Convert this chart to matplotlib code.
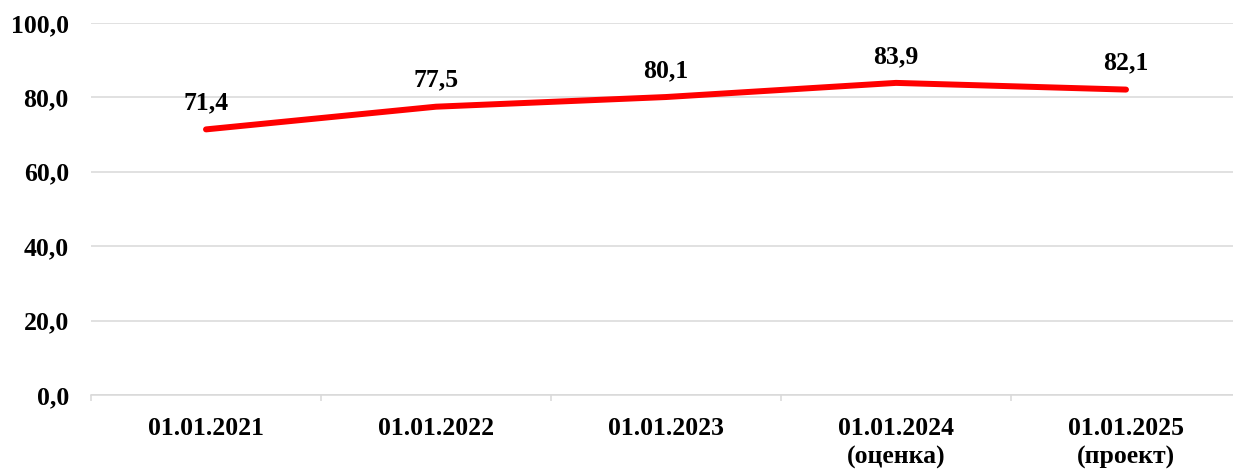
import numpy as np
import matplotlib
matplotlib.use("Agg")
import matplotlib.pyplot as plt
from matplotlib.ticker import FixedLocator

# данные
categories = ["01.01.2021", "01.01.2022", "01.01.2023",
              "01.01.2024\n(оценка)", "01.01.2025\n(проект)"]
values = [71.4, 77.5, 80.1, 83.9, 82.1]
y_ticks = [0, 20, 40, 60, 80, 100]

plt.rcParams["font.family"] = ["Liberation Serif", "DejaVu Serif"]
plt.rcParams["font.weight"] = "bold"

fig = plt.figure(figsize=(12.33, 4.72), dpi=100)
ax = fig.add_axes([91 / 1233, 1 - 395 / 472, 1150 / 1233, 372 / 472])

x = np.arange(len(categories))
ax.plot(x, values, color="#FF0000", linewidth=4.3, solid_capstyle="round", zorder=3)

for xi, v in zip(x, values):
    ax.annotate(f"{v:.1f}".replace(".", ","), (xi, v), xytext=(0, 19),
                textcoords="offset points", ha="center", va="center",
                fontsize=18.5, fontweight="bold")

ax.set_xlim(-0.5, len(categories) - 0.5)
ax.set_ylim(0, 100)
ax.set_yticks(y_ticks)
ax.set_yticklabels([f"{t:.1f}".replace(".", ",") for t in y_ticks])
ax.set_xticks(x)
ax.set_xticklabels(categories, linespacing=1.3)
ax.xaxis.set_minor_locator(FixedLocator(np.arange(-0.5, len(categories), 1.0)))

ax.grid(axis="y", color="#D9D9D9", linewidth=1.1)
ax.set_axisbelow(True)
for s in ["top", "right", "left"]:
    ax.spines[s].set_visible(False)
ax.spines["bottom"].set_color("#D9D9D9")
ax.spines["bottom"].set_linewidth(1.1)

ax.tick_params(axis="y", length=0, pad=16, labelsize=18.5)
ax.tick_params(axis="x", which="major", length=0, pad=16, labelsize=18.5)
ax.tick_params(axis="x", which="minor", length=4, width=1.1, color="#D9D9D9")
for lbl in ax.get_xticklabels() + ax.get_yticklabels():
    lbl.set_fontweight("bold")

fig.savefig("out.png", dpi=100)
